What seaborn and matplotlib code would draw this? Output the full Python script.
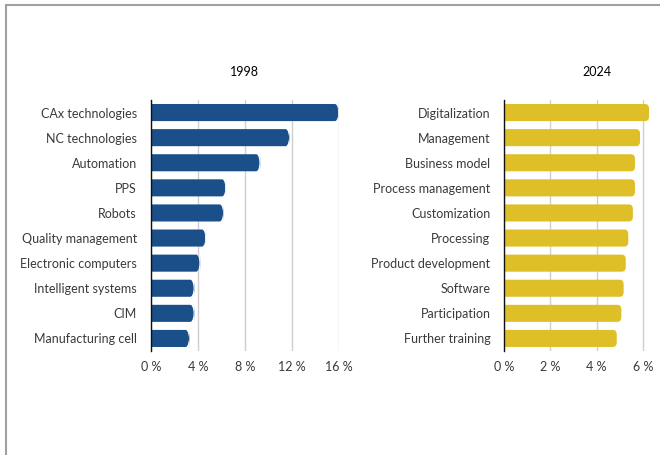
import matplotlib
matplotlib.use("Agg")
import matplotlib.pyplot as plt
from matplotlib.patches import FancyBboxPatch
from matplotlib.lines import Line2D
import seaborn as sns
import pandas as pd

# data
labels_1998 = ["CAx technologies", "NC technologies", "Automation", "PPS", "Robots",
               "Quality management", "Electronic computers", "Intelligent systems",
               "CIM", "Manufacturing cell"]
values_1998 = [16.0, 11.8, 9.3, 6.4, 6.2, 4.7, 4.2, 3.7, 3.7, 3.3]

labels_2024 = ["Digitalization", "Management", "Business model", "Process management",
               "Customization", "Processing", "Product development", "Software",
               "Participation", "Further training"]
values_2024 = [6.27, 5.88, 5.66, 5.66, 5.57, 5.37, 5.26, 5.17, 5.07, 4.87]

ticks_1998 = [0, 4, 8, 12, 16]
ticks_2024 = [0, 2, 4, 6]
xmax_1998 = 16
xmax_2024 = 8

BLUE = "#1a4f89"
YELLOW = "#dfbf27"
TEXT = "#3a3a3a"

sns.set_style("white")
plt.rcParams["font.family"] = ["Lato", "DejaVu Sans"]

fig = plt.figure(figsize=(6.6, 4.55), dpi=100)
W, H = 660, 455


def round_bars(ax, radius_px=4):
    # swap seaborn's rectangles for bars with rounded ends
    fig.canvas.draw()
    p0 = ax.transData.transform((0, 0))
    p1 = ax.transData.transform((1, 1))
    px_x = abs(p1[0] - p0[0])
    px_y = abs(p1[1] - p0[1])
    r = radius_px / px_x
    aspect = px_x / px_y
    for p in list(ax.patches):
        x, y, w, h = p.get_x(), p.get_y(), p.get_width(), p.get_height()
        fc = p.get_facecolor()
        p.remove()
        ax.add_patch(FancyBboxPatch((x - r, y), w + r, h,
                                    boxstyle=f"round,pad=0,rounding_size={r}",
                                    mutation_aspect=1 / aspect,
                                    facecolor=fc, edgecolor="none", zorder=2))


def panel(rect, labels, values, color, ticks, xmax, title):
    ax = fig.add_axes(rect)
    df = pd.DataFrame({"label": labels, "value": values})
    sns.barplot(data=df, x="value", y="label", orient="h", color=color,
                width=0.68, ax=ax, saturation=1)
    ax.set_xlim(0, xmax)
    ax.set_xticks(ticks)
    ax.set_xticklabels([f"{t} %" for t in ticks])
    ax.set_xlabel("")
    ax.set_ylabel("")
    ax.grid(axis="x", color="#cfcfcf", lw=1, zorder=0)
    ax.set_axisbelow(True)
    for s in ["top", "right", "bottom"]:
        ax.spines[s].set_visible(False)
    ax.spines["left"].set_color("#111111")
    ax.spines["left"].set_linewidth(1.0)
    ax.spines["left"].set_zorder(3)
    ax.tick_params(axis="both", length=0, labelsize=9, labelcolor=TEXT)
    ax.tick_params(axis="x", pad=7)
    ax.tick_params(axis="y", pad=10)
    ax.set_title(title, fontsize=9, color="#000000", pad=17)
    round_bars(ax)
    return ax


bottom = (H - 351) / H
height = 251 / H
panel([150.7 / W, bottom, (339 - 150.7) / W, height],
      labels_1998, values_1998, BLUE, ticks_1998, xmax_1998, "1998")
panel([504.3 / W, bottom, (689 - 504.3) / W, height],
      labels_2024, values_2024, YELLOW, ticks_2024, xmax_2024, "2024")

# grey frame along top and left
fig.add_artist(Line2D([5.5 / W, 5.5 / W], [0, (H - 5) / H], color="#a0a0a0", lw=1.5))
fig.add_artist(Line2D([5.5 / W, 1], [(H - 5) / H, (H - 5) / H], color="#a0a0a0", lw=1.5))

fig.savefig("out.png", dpi=100)
